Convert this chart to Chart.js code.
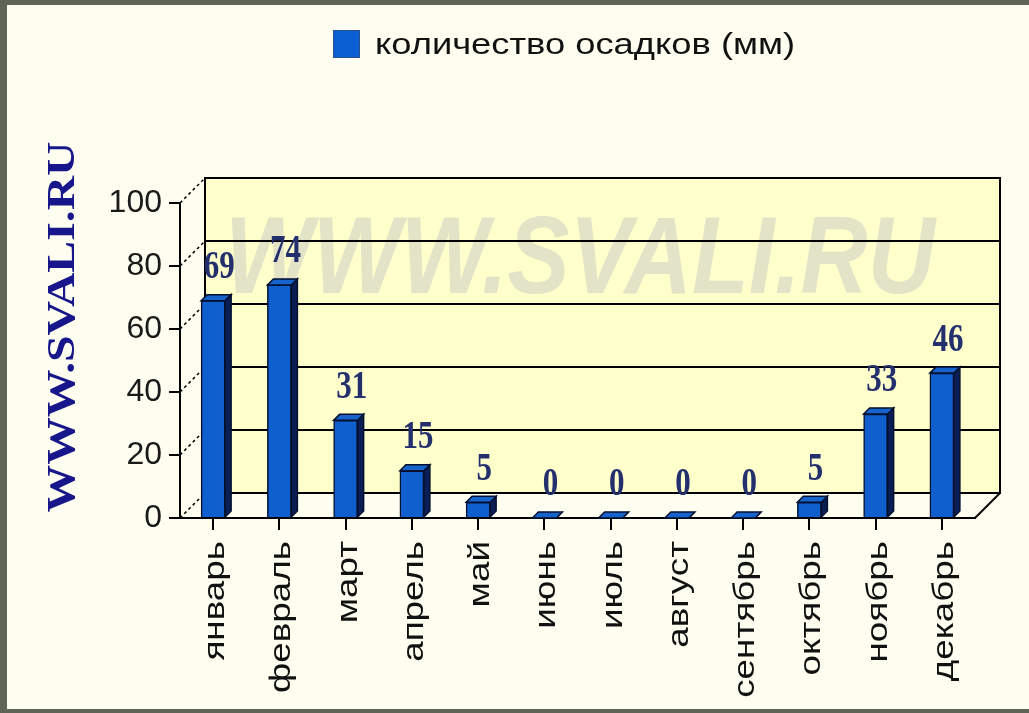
<!DOCTYPE html>
<html>
<head>
<meta charset="utf-8">
<script src="https://cdn.jsdelivr.net/npm/chart.js@4.4.1/dist/chart.umd.min.js"></script>
<style>
  html, body { margin: 0; padding: 0; background: #fefef0; }
  canvas { display: block; }
</style>
</head>
<body>
<canvas id="rainChart" width="1029" height="713"></canvas>
<script>
// data
var months = ['январь', 'февраль', 'март', 'апрель', 'май', 'июнь',
              'июль', 'август', 'сентябрь', 'октябрь', 'ноябрь', 'декабрь'];
var precipitation = [69, 74, 31, 15, 5, 0, 0, 0, 0, 5, 33, 46];
var yTicks = [0, 20, 40, 60, 80, 100];
var seriesLabel = 'количество осадков (мм)';
var siteName = 'WWW.SVALI.RU';

// depth of the back wall and of each bar
var wallDx = 25, wallDy = -25;
var barDx = 6, barDy = -6;

var scene = {
    id: 'scene',
    beforeDraw: function (chart) {
        var ctx = chart.ctx;
        ctx.save();
        ctx.fillStyle = '#5f6456';
        ctx.fillRect(0, 0, chart.width, chart.height);
        ctx.fillStyle = '#fefef0';
        ctx.fillRect(7, 5, chart.width - 7, 704);
        ctx.restore();
    },
    beforeDatasetsDraw: function (chart) {
        var ctx = chart.ctx, a = chart.chartArea, y = chart.scales.y;
        var l = a.left + wallDx, r = a.right + wallDx;
        var t = y.getPixelForValue(100) + wallDy, b = y.getPixelForValue(0) + wallDy;
        ctx.save();
        // back wall
        ctx.fillStyle = '#ffffcc';
        ctx.fillRect(l, t, r - l, b - t);
        // watermark
        ctx.save();
        ctx.font = 'italic bold 91px "Liberation Sans", Arial, sans-serif';
        var w = ctx.measureText(siteName).width;
        ctx.translate(580, 293);
        ctx.scale(710 / w, 1.2);
        ctx.fillStyle = '#e3e3c8';
        ctx.textAlign = 'center';
        ctx.textBaseline = 'alphabetic';
        ctx.fillText(siteName, 0, 0);
        ctx.restore();
        // grid lines on the wall
        ctx.strokeStyle = '#000';
        ctx.lineWidth = 2;
        yTicks.forEach(function (v) {
            var py = y.getPixelForValue(v) + wallDy;
            ctx.beginPath();
            ctx.moveTo(l, py);
            ctx.lineTo(r, py);
            ctx.stroke();
        });
        ctx.strokeRect(l, t, r - l, b - t);
        // dashed depth lines on the left
        ctx.lineWidth = 1.5;
        ctx.setLineDash([3, 3]);
        yTicks.forEach(function (v) {
            var py = y.getPixelForValue(v);
            ctx.beginPath();
            ctx.moveTo(a.left, py);
            ctx.lineTo(a.left + wallDx, py + wallDy);
            ctx.stroke();
        });
        ctx.setLineDash([]);
        // floor edge on the right
        ctx.lineWidth = 2;
        ctx.beginPath();
        ctx.moveTo(a.right, a.bottom);
        ctx.lineTo(r, b);
        ctx.stroke();
        ctx.restore();
    },
    afterDatasetsDraw: function (chart) {
        var ctx = chart.ctx;
        var meta = chart.getDatasetMeta(0);
        ctx.save();
        ctx.strokeStyle = '#02102e';
        ctx.lineWidth = 1.5;
        meta.data.forEach(function (bar, i) {
            var half = bar.width / 2;
            var x0 = bar.x - half, x1 = bar.x + half;
            var top = bar.y, base = bar.base;
            // side face
            ctx.fillStyle = '#0b1d55';
            ctx.beginPath();
            ctx.moveTo(x1, base);
            ctx.lineTo(x1, top);
            ctx.lineTo(x1 + barDx, top + barDy);
            ctx.lineTo(x1 + barDx, base + barDy);
            ctx.closePath();
            ctx.fill();
            ctx.stroke();
            // top face
            ctx.fillStyle = '#1763cc';
            ctx.beginPath();
            ctx.moveTo(x0, top);
            ctx.lineTo(x1, top);
            ctx.lineTo(x1 + barDx, top + barDy);
            ctx.lineTo(x0 + barDx, top + barDy);
            ctx.closePath();
            ctx.fill();
            ctx.stroke();
            // value label
            ctx.save();
            ctx.translate(bar.x + 6, top - 33);
            ctx.scale(1, 1.3);
            ctx.font = 'bold 31px "Liberation Serif", "Times New Roman", serif';
            ctx.fillStyle = '#24306e';
            ctx.textAlign = 'center';
            ctx.textBaseline = 'middle';
            ctx.fillText(String(precipitation[i]), 0, 0);
            ctx.restore();
        });
        ctx.restore();
    },
    afterDraw: function (chart) {
        var ctx = chart.ctx, x = chart.scales.x;
        ctx.save();
        // legend
        ctx.fillStyle = '#0b5fd3';
        ctx.fillRect(333, 30, 27, 28);
        ctx.strokeStyle = '#2a4f8a';
        ctx.lineWidth = 1;
        ctx.strokeRect(333.5, 30.5, 26, 27);
        ctx.save();
        ctx.font = '30px "Liberation Sans", Arial, sans-serif';
        var lw = ctx.measureText(seriesLabel).width;
        ctx.translate(375, 46);
        ctx.scale(420 / lw, 1);
        ctx.fillStyle = '#111';
        ctx.textAlign = 'left';
        ctx.textBaseline = 'middle';
        ctx.fillText(seriesLabel, 0, 0);
        ctx.restore();
        // category labels, rotated
        ctx.font = '29px "Liberation Sans", Arial, sans-serif';
        ctx.fillStyle = '#111';
        ctx.textAlign = 'right';
        ctx.textBaseline = 'middle';
        months.forEach(function (m, i) {
            ctx.save();
            ctx.translate(x.getPixelForValue(i) + 3, 541);
            ctx.rotate(-Math.PI / 2);
            ctx.scale(1.27, 1);
            ctx.fillText(m, 0, 0);
            ctx.restore();
        });
        // site name on the left
        ctx.save();
        ctx.font = 'bold 41px "Liberation Serif", "Times New Roman", serif';
        var sw = ctx.measureText(siteName).width;
        ctx.translate(63, 327);
        ctx.rotate(-Math.PI / 2);
        ctx.scale(371 / sw, 1);
        ctx.fillStyle = '#17168a';
        ctx.textAlign = 'center';
        ctx.textBaseline = 'middle';
        ctx.fillText(siteName, 0, 0);
        ctx.restore();
        ctx.restore();
    }
};

var ctx = document.getElementById('rainChart').getContext('2d');
var rainChart = new Chart(ctx, {
    type: 'bar',
    data: {
        labels: months,
        datasets: [{
            label: seriesLabel,
            data: precipitation,
            backgroundColor: '#0f5fcf',
            borderColor: '#02102e',
            borderWidth: 1.5,
            barThickness: 24
        }]
    },
    options: {
        responsive: false,
        devicePixelRatio: 1,
        animation: false,
        layout: { padding: { top: 203, right: 54, left: 0, bottom: 0 } },
        plugins: {
            legend: { display: false },
            tooltip: { enabled: false }
        },
        scales: {
            x: {
                grid: { drawOnChartArea: false, offset: false, tickLength: 12, color: '#000', lineWidth: 2 },
                border: { display: true, color: '#000', width: 2 },
                ticks: { display: false },
                afterFit: function (s) { s.height = 195; }
            },
            y: {
                min: 0,
                max: 100,
                afterBuildTicks: function (s) {
                    s.ticks = yTicks.map(function (v) { return { value: v }; });
                },
                ticks: {
                    padding: 7,
                    color: '#1a1a1a',
                    font: { size: 32, family: '"Liberation Sans", Arial, sans-serif' }
                },
                grid: { drawOnChartArea: false, tickLength: 11, color: '#000', lineWidth: 2 },
                border: { display: true, color: '#000', width: 2 },
                afterFit: function (s) { s.width = 180; }
            }
        }
    },
    plugins: [scene]
});
</script>
</body>
</html>
